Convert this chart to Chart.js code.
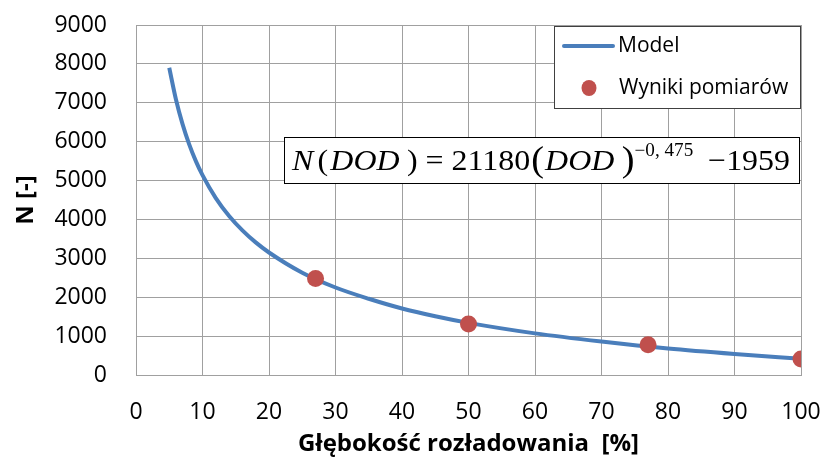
<!DOCTYPE html>
<html>
<head>
<meta charset="utf-8">
<script src="https://cdn.jsdelivr.net/npm/chart.js@4/dist/chart.umd.min.js"></script>
<style>
  html, body { margin: 0; padding: 0; background: #fff; }
  #wrap { width: 827px; height: 462px; }
</style>
</head>
<body>
<div id="wrap"><canvas id="c" width="827" height="462"></canvas></div>
<script>
// Depth of discharge [%] and cycle life N for the fitted model curve
const modelDod = [5, 6, 7, 8, 9, 10, 12, 14, 16, 18, 20, 25, 30, 35, 40, 45, 50, 60, 70, 80, 90, 100];
const modelN   = [7900, 7090, 6450, 5930, 5500, 5140, 4550, 4090, 3720, 3410, 3150, 2630, 2250, 1960, 1710, 1510, 1340, 1070, 860, 680, 540, 420];

// Measured cycle life
const measDod = [27, 50, 77, 100];
const measN   = [2480, 1310, 780, 410];

// Axis ticks
const xTicks = [0, 10, 20, 30, 40, 50, 60, 70, 80, 90, 100];
const yTicks = [0, 1000, 2000, 3000, 4000, 5000, 6000, 7000, 8000, 9000];

const seriesNames = ['Model', 'Wyniki pomiarów'];
const xTitle = 'Głębokość rozładowania  [%]';
const yTitle = 'N [-]';

const BLUE = '#4A7EBB';
const RED = '#C0504D';
const GRID = '#A0A0A0';
const SANS = '"Open Sans", "Noto Sans", sans-serif';
const SERIF = '"Liberation Serif", "DejaVu Serif", serif';

// Legend box in the upper right corner of the plot
const legendBox = {
  id: 'legendBox',
  afterDatasetsDraw(chart) {
    const { ctx, chartArea: a } = chart;
    const w = 246, h = 82;
    const x0 = a.right - w - 1, y0 = a.top + 1;
    ctx.save();
    ctx.fillStyle = '#fff';
    ctx.fillRect(x0, y0, w, h);
    ctx.strokeStyle = '#404040';
    ctx.lineWidth = 1;
    ctx.strokeRect(x0 + 0.5, y0 + 0.5, w, h);
    ctx.font = '21px ' + SANS;
    ctx.fillStyle = '#000';
    ctx.textBaseline = 'middle';
    // line entry
    const ds0 = chart.data.datasets[0];
    ctx.strokeStyle = ds0.borderColor;
    ctx.lineWidth = 4;
    ctx.lineCap = 'round';
    ctx.beginPath();
    ctx.moveTo(x0 + 10, y0 + 20);
    ctx.lineTo(x0 + 59, y0 + 20);
    ctx.stroke();
    ctx.fillText(ds0.label, x0 + 64, y0 + 20);
    // point entry
    const ds1 = chart.data.datasets[1];
    ctx.fillStyle = ds1.backgroundColor;
    ctx.beginPath();
    ctx.ellipse(x0 + 35, y0 + 62, 7.5, 8, 0, 0, Math.PI * 2);
    ctx.fill();
    ctx.fillStyle = '#000';
    ctx.fillText(ds1.label, x0 + 65, y0 + 62);
    ctx.restore();
  }
};

// Fitted formula in a framed box
const formulaBox = {
  id: 'formulaBox',
  afterDatasetsDraw(chart) {
    const { ctx, chartArea: a } = chart;
    const x0 = 284, y0 = 137, x1 = a.right - 1, y1 = 184;
    ctx.save();
    ctx.fillStyle = '#fff';
    ctx.fillRect(x0, y0, x1 - x0, y1 - y0);
    ctx.strokeStyle = '#000';
    ctx.lineWidth = 1;
    ctx.strokeRect(x0 + 0.5, y0 + 0.5, x1 - x0 - 1, y1 - y0 - 1);
    const fs = 30;
    // gap = extra space after the piece, in px before horizontal fit
    const parts = [
      { t: 'N', it: true, s: 1, dy: 0, gap: 4 },
      { t: '(', it: false, s: 1, dy: 0, gap: 2 },
      { t: 'DOD', it: true, s: 1, dy: 0, gap: 7 },
      { t: ')', it: false, s: 1, dy: 0, gap: 0 },
      { t: ' = 21180', it: false, s: 1, dy: 0, gap: 1 },
      { t: '(', it: false, s: 1.2, dy: 1, gap: 1 },
      { t: 'DOD', it: true, s: 1, dy: 0, gap: 7 },
      { t: ')', it: false, s: 1.2, dy: 1, gap: 0 },
      { t: '\u22120, 475', it: false, s: 0.6, dy: -14, gap: 14 },
      { t: '\u22121959', it: false, s: 1, dy: 0, gap: 0 }
    ];
    const fontOf = p => (p.it ? 'italic ' : '') + Math.round(fs * p.s) + 'px ' + SERIF;
    let total = 0;
    for (const p of parts) {
      ctx.font = fontOf(p);
      p.w = ctx.measureText(p.t).width;
      total += p.w + p.gap;
    }
    const left = x0 + 8, right = x1 - 10;
    const base = y0 + 33;
    ctx.translate(left, 0);
    ctx.scale((right - left) / total, 1);
    let x = 0;
    ctx.fillStyle = '#000';
    ctx.textBaseline = 'alphabetic';
    for (const p of parts) {
      ctx.font = fontOf(p);
      ctx.fillText(p.t, x, base + p.dy);
      x += p.w + p.gap;
    }
    ctx.restore();
  }
};

new Chart(document.getElementById('c'), {
  type: 'scatter',
  data: {
    datasets: [
      {
        label: seriesNames[0],
        type: 'line',
        data: modelDod.map((d, i) => ({ x: d, y: modelN[i] })),
        borderColor: BLUE,
        backgroundColor: BLUE,
        borderWidth: 4,
        pointRadius: 0,
        cubicInterpolationMode: 'monotone',
        fill: false,
        order: 2
      },
      {
        label: seriesNames[1],
        data: measDod.map((d, i) => ({ x: d, y: measN[i] })),
        backgroundColor: RED,
        borderColor: RED,
        pointRadius: 8.5,
        pointBorderWidth: 0,
        order: 1
      }
    ]
  },
  options: {
    responsive: false,
    animation: false,
    layout: { padding: { top: 25, right: 26, left: 0, bottom: 0 } },
    plugins: { legend: { display: false }, tooltip: { enabled: false } },
    scales: {
      x: {
        type: 'linear',
        min: 0, max: 100,
        afterBuildTicks: s => { s.ticks = xTicks.map(v => ({ value: v })); },
        afterFit: s => { s.height = 87; s.paddingLeft = 0; s.paddingRight = 0; },
        grid: { color: GRID, lineWidth: 1, drawTicks: false },
        border: { color: GRID, width: 1 },
        ticks: { color: '#000', font: { family: SANS, size: 23 }, padding: 24, maxRotation: 0, callback: v => String(v) },
        title: { display: true, text: xTitle, color: '#000', font: { family: SANS, size: 24, weight: 'bold' }, padding: { top: 0, bottom: 3 } }
      },
      y: {
        min: 0, max: 9000,
        afterBuildTicks: s => { s.ticks = yTicks.map(v => ({ value: v })); },
        afterFit: s => { s.width = 136; s.paddingTop = 0; s.paddingBottom = 0; },
        grid: { color: GRID, lineWidth: 1, drawTicks: false },
        border: { color: GRID, width: 1 },
        ticks: { color: '#000', font: { family: SANS, size: 23 }, padding: 29, callback: v => String(v) },
        title: { display: true, text: yTitle, color: '#000', font: { family: SANS, size: 24, weight: 'bold' }, padding: { top: 12, bottom: 0 } }
      }
    }
  },
  plugins: [legendBox, formulaBox]
});
</script>
</body>
</html>
